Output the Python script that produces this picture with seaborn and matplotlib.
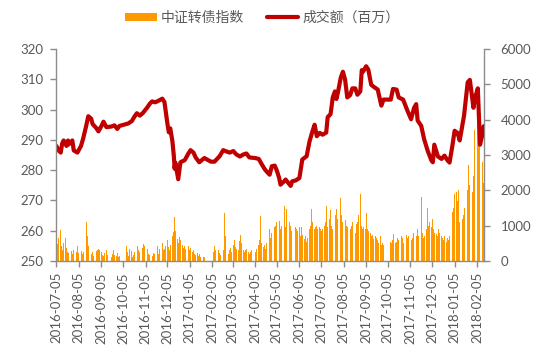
import matplotlib
matplotlib.use("Agg")
import matplotlib.pyplot as plt
import matplotlib.dates as mdates
from matplotlib.patches import Patch
from matplotlib.lines import Line2D
import numpy as np
import pandas as pd
import seaborn as sns

# ---------------- data ----------------
series_bar_label = "中证转债指数"
series_line_label = "成交额（百万）"

holidays = ["2016-09-15", "2016-09-16", "2016-10-03", "2016-10-04", "2016-10-05",
            "2016-10-06", "2016-10-07", "2017-01-02", "2017-01-27", "2017-01-30",
            "2017-01-31", "2017-02-01", "2017-02-02", "2017-04-03", "2017-04-04",
            "2017-05-01", "2017-05-29", "2017-05-30", "2017-10-02", "2017-10-03",
            "2017-10-04", "2017-10-05", "2017-10-06", "2018-01-01"]

# daily bar values (right axis), one list per month
volume_by_month = [
    [720, 560, 480, 640, 870, 420, 300, 250, 520, 660, 380, 250, 300, 220, 350, 280, 200, 240, 310],
    [300, 250, 420, 180, 220, 350, 280, 200, 250, 320, 480, 1110, 700, 420, 280, 200, 180, 250, 150, 200, 280, 350, 300],
    [350, 320, 250, 200, 180, 150, 220, 300, 180, 150, 120, 200, 250, 300, 180, 150, 220, 130, 100, 150],
    [420, 250, 150, 200, 350, 280, 120, 180, 300, 250, 150, 420, 300, 200, 260, 380],
    [380, 480, 420, 300, 480, 350, 200, 160, 250, 180, 150, 220, 200, 300, 420, 250, 200, 350, 430, 520, 380, 300],
    [350, 420, 600, 520, 400, 300, 450, 700, 820, 1000, 1240, 850, 620, 500, 710, 680, 600, 450, 380, 300, 420, 350],
    [420, 350, 300, 380, 250, 300, 200, 250, 180, 220, 150, 200, 180, 120, 150, 100, 120, 100],
    [120, 180, 250, 430, 300, 200, 250, 300, 220, 180, 260, 300, 450, 1360, 710, 400, 200, 430],
    [300, 380, 250, 450, 950, 600, 400, 350, 300, 570, 450, 750, 500, 300, 250, 200, 300, 350, 250, 200, 180, 250, 300],
    [300, 250, 350, 450, 600, 1270, 700, 500, 400, 450, 350, 620, 500, 700, 900, 650, 1000, 800],
    [950, 1000, 1100, 900, 1780, 1130, 900, 1000, 850, 1570, 1000, 950, 1480, 900, 1100, 1330, 1000, 850, 900, 950],
    [900, 850, 950, 800, 700, 950, 750, 620, 700, 600, 550, 650, 900, 1000, 1700, 1480, 1100, 900, 950, 850, 1000, 900],
    [950, 900, 850, 1000, 900, 1000, 1100, 1570, 1000, 950, 1200, 1430, 1000, 1050, 900, 1100, 1300, 1480, 1780, 1200, 1100],
    [1770, 1300, 1100, 1000, 900, 1150, 1000, 950, 1200, 900, 850, 1000, 1100, 900, 800, 950, 1050, 1100, 1300, 1910, 1440, 1000, 900],
    [950, 900, 800, 1350, 900, 850, 800, 700, 900, 750, 620, 700, 650, 860, 600, 520, 700, 450, 400, 500, 450],
    [550, 500, 600, 450, 760, 500, 550, 650, 500, 600, 950, 700, 650, 1240, 500, 800, 750],
    [650, 700, 550, 710, 600, 650, 800, 600, 700, 650, 900, 700, 1100, 1800, 1140, 800, 650, 700, 900, 1050, 1490, 1000],
    [1100, 950, 1240, 1200, 900, 800, 760, 700, 1140, 900, 800, 700, 650, 620, 600, 700, 550, 650, 500, 600, 700],
    [1400, 1500, 1580, 1900, 1960, 1700, 2000, 1250, 1100, 1150, 1200, 1300, 1150, 1500, 2340, 2000, 2720, 2800, 2150, 2000, 1960, 2400],
    [3700, 2800, 3150, 4100, 4800, 3600, 3190, 2800, 2150, 2200],
]

# line values (left axis)
line_dates = [
    "2016-07-05", "2016-07-08", "2016-07-11", "2016-07-13", "2016-07-15", "2016-07-19", "2016-07-21", "2016-07-22", "2016-07-27", "2016-07-29",
    "2016-08-03", "2016-08-08", "2016-08-11", "2016-08-15", "2016-08-18", "2016-08-22", "2016-08-24", "2016-08-29",
    "2016-09-01", "2016-09-05", "2016-09-08", "2016-09-12", "2016-09-19", "2016-09-23", "2016-09-27", "2016-09-30",
    "2016-10-12", "2016-10-17", "2016-10-21", "2016-10-24", "2016-10-28",
    "2016-11-01", "2016-11-07", "2016-11-11", "2016-11-14", "2016-11-18", "2016-11-22", "2016-11-28",
    "2016-12-01", "2016-12-05", "2016-12-07", "2016-12-09", "2016-12-12", "2016-12-14", "2016-12-15", "2016-12-16", "2016-12-20", "2016-12-23", "2016-12-29",
    "2017-01-03", "2017-01-06", "2017-01-10", "2017-01-13", "2017-01-18", "2017-01-25",
    "2017-02-03", "2017-02-08", "2017-02-15", "2017-02-20", "2017-02-24",
    "2017-03-01", "2017-03-06", "2017-03-10", "2017-03-15", "2017-03-20", "2017-03-24", "2017-03-28",
    "2017-04-05", "2017-04-10", "2017-04-14", "2017-04-18", "2017-04-21", "2017-04-25", "2017-04-28",
    "2017-05-02", "2017-05-05", "2017-05-08", "2017-05-10", "2017-05-15", "2017-05-17", "2017-05-19", "2017-05-24", "2017-05-26", "2017-05-31",
    "2017-06-05", "2017-06-09", "2017-06-15", "2017-06-19", "2017-06-23", "2017-06-26", "2017-06-29",
    "2017-07-03", "2017-07-07", "2017-07-12", "2017-07-14", "2017-07-18", "2017-07-21", "2017-07-24", "2017-07-26", "2017-07-28",
    "2017-08-01", "2017-08-04", "2017-08-07", "2017-08-10", "2017-08-14", "2017-08-17", "2017-08-21", "2017-08-24", "2017-08-28", "2017-08-30",
    "2017-09-01", "2017-09-05", "2017-09-08", "2017-09-12", "2017-09-15", "2017-09-21", "2017-09-26", "2017-09-29",
    "2017-10-09", "2017-10-12", "2017-10-17", "2017-10-20", "2017-10-26",
    "2017-11-01", "2017-11-06", "2017-11-10", "2017-11-13", "2017-11-15", "2017-11-20", "2017-11-24", "2017-11-29",
    "2017-12-04", "2017-12-06", "2017-12-08", "2017-12-13", "2017-12-18", "2017-12-22", "2017-12-26", "2017-12-29",
    "2018-01-02", "2018-01-05", "2018-01-09", "2018-01-12", "2018-01-18", "2018-01-23", "2018-01-26", "2018-01-29", "2018-01-31",
    "2018-02-02", "2018-02-06", "2018-02-08", "2018-02-09", "2018-02-12", "2018-02-14",
]
line_values = [
    288.0, 286.5, 285.8, 288.8, 289.8, 288.0, 289.8, 288.5, 289.8, 286.5,
    285.8, 288.0, 290.5, 294.5, 297.8, 297.0, 295.2, 293.9,
    292.8, 294.5, 296.0, 294.2, 294.4, 294.8, 293.6, 294.6,
    295.4, 296.2, 297.8, 298.8, 298.0,
    298.8, 300.6, 302.0, 302.7, 302.4, 302.8, 303.6,
    302.5, 295.5, 292.5, 293.8, 289.5, 284.5, 280.5, 282.5, 277.0, 282.6, 283.3,
    285.5, 286.6, 285.8, 284.2, 282.6, 284.0,
    282.8, 282.8, 284.6, 286.6, 286.2,
    285.8, 286.3, 285.2, 284.5, 285.2, 285.5, 284.2,
    284.0, 283.7, 282.0, 280.4, 279.5, 278.5, 281.3,
    281.5, 279.8, 277.5, 275.2, 276.3, 276.9, 276.3, 274.8, 276.3, 276.6,
    277.4, 283.5, 284.6, 289.5, 292.8, 295.0, 291.2,
    292.3, 291.7, 292.4, 297.5, 298.5, 304.0, 306.0, 303.5, 305.5,
    310.5, 312.5, 309.9, 304.0, 304.8, 307.0, 307.0, 304.9, 306.0, 313.0,
    312.6, 314.3, 313.2, 308.2, 307.6, 306.6, 301.3, 303.3,
    303.3, 306.8, 306.6, 304.0, 303.3,
    299.6, 296.8, 300.5, 301.8, 296.4, 294.6, 290.2, 286.3,
    283.2, 282.6, 288.4, 284.5, 283.7, 284.8, 283.3, 282.5,
    288.2, 293.0, 292.3, 289.8, 298.0, 309.0, 309.8, 304.4, 300.6,
    303.8, 307.0, 294.5, 288.4, 291.5, 294.5,
]

left_ticks = [250, 260, 270, 280, 290, 300, 310, 320]
right_ticks = [0, 1000, 2000, 3000, 4000, 5000, 6000]
tick_dates = ["2016-07-05", "2016-08-05", "2016-09-05", "2016-10-05", "2016-11-05",
              "2016-12-05", "2017-01-05", "2017-02-05", "2017-03-05", "2017-04-05",
              "2017-05-05", "2017-06-05", "2017-07-05", "2017-08-05", "2017-09-05",
              "2017-10-05", "2017-11-05", "2017-12-05", "2018-01-05", "2018-02-05"]
start_date, end_date = "2016-07-05", "2018-02-14"

# ---------------- build tables ----------------
days = pd.bdate_range(start_date, end_date)
days = days[~days.isin(pd.to_datetime(holidays))]
months = days.to_period("M")
bar_rows = []
for period, vals in zip(months.unique(), volume_by_month):
    mdays = days[months == period]
    for d, v in zip(mdays, vals):
        bar_rows.append((d, v))
bars = pd.DataFrame(bar_rows, columns=["date", "volume"])
line = pd.DataFrame({"date": pd.to_datetime(line_dates), "value": line_values})

# ---------------- plot ----------------
sns.set_theme(style="white")
plt.rcParams["font.family"] = ["Lato", "Noto Sans CJK SC", "DejaVu Sans"]
grey = "#595959"
axis_grey = "#8c8c8c"
bar_color = "#FF9900"
line_color = "#C00000"

fig = plt.figure(figsize=(5.5, 3.45), dpi=100)
ax = fig.add_axes([56 / 550, 1 - 261 / 345, (484 - 56) / 550, (261 - 49) / 345])
ax2 = ax.twinx()

ax2.bar(bars["date"], bars["volume"], width=1.0, color=bar_color, linewidth=0)
sns.lineplot(data=line, x="date", y="value", ax=ax, color=line_color, linewidth=3.0)

ax.set_zorder(ax2.get_zorder() + 1)
ax.patch.set_visible(False)

ax.set_ylim(250, 320)
ax.set_yticks(left_ticks)
ax2.set_ylim(0, 6000)
ax2.set_yticks(right_ticks)
x0 = pd.Timestamp(start_date) - pd.Timedelta(hours=12)
x1 = pd.Timestamp(end_date) + pd.Timedelta(hours=12)
ax.set_xlim(x0, x1)
ax.set_xticks(pd.to_datetime(tick_dates))
ax.xaxis.set_major_formatter(mdates.DateFormatter("%Y-%m-%d"))
ax.set_xlabel("")
ax.set_ylabel("")
ax2.set_ylabel("")

for a in (ax, ax2):
    for s in a.spines.values():
        s.set_visible(False)
ax.spines["left"].set_visible(True)
ax.spines["bottom"].set_visible(True)
ax2.spines["right"].set_visible(True)
for s in (ax.spines["left"], ax.spines["bottom"], ax2.spines["right"]):
    s.set_color(axis_grey)
    s.set_linewidth(1.0)

ax.tick_params(axis="y", which="major", direction="out", length=4, width=1,
               color=axis_grey, labelcolor=grey, labelsize=9.5, pad=5, left=True)
ax.tick_params(axis="x", which="major", direction="out", length=4, width=1,
               color=axis_grey, labelcolor=grey, labelsize=9.5, pad=4,
               bottom=True, labelrotation=90)
ax2.tick_params(axis="y", which="major", direction="out", length=4, width=1,
                color=axis_grey, labelcolor=grey, labelsize=9.5, pad=8, right=True)
ax.grid(False)
ax2.grid(False)

handles = [Patch(facecolor=bar_color, edgecolor="none"),
           Line2D([], [], color=line_color, linewidth=3)]
leg = fig.legend(handles, [series_bar_label, series_line_label], loc="center",
                 bbox_to_anchor=(0.477, 0.948), ncol=2, frameon=False,
                 fontsize=10, handlelength=2.3, handleheight=0.6,
                 handletextpad=0.3, columnspacing=1.6,
                 prop={"family": ["Noto Sans CJK SC", "DejaVu Sans"], "size": 10})
for t in leg.get_texts():
    t.set_color(grey)

fig.savefig("out.png", dpi=100)
